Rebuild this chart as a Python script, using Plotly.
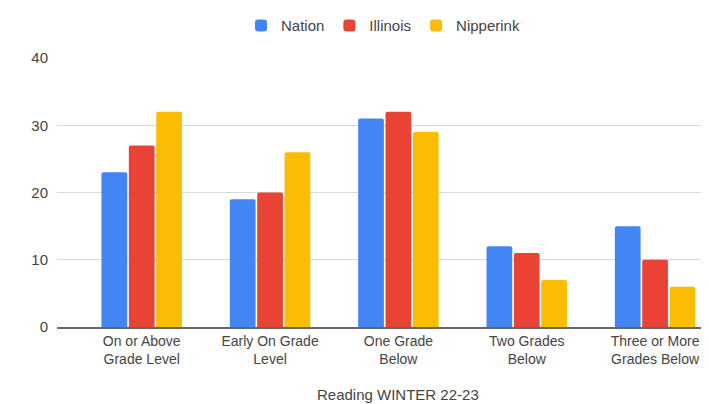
import plotly.graph_objects as go

categories = ["On or Above<br>Grade Level", "Early On Grade<br>Level", "One Grade<br>Below",
              "Two Grades<br>Below", "Three or More<br>Grades Below"]
nation = [23, 19, 31, 12, 15]
illinois = [27, 20, 32, 11, 10]
nipperink = [32, 26, 29, 7, 6]
series_names = ["Nation", "Illinois", "Nipperink"]
colors = ["#4285F4", "#EA4335", "#FBBC04"]
y_ticks = [0, 10, 20, 30, 40]

fig = go.Figure()
for name, vals, c in zip(series_names, [nation, illinois, nipperink], colors):
    fig.add_trace(go.Bar(name=name, x=categories, y=vals, marker=dict(color=c, line=dict(width=0))))

font = "Liberation Sans, Arial, sans-serif"
fig.update_layout(
    width=701, height=396,
    margin=dict(l=49, r=0, t=50, b=77),
    paper_bgcolor="white", plot_bgcolor="white",
    barmode="group", bargap=0.36, bargroupgap=0.06, barcornerradius=2,
    font=dict(family=font, size=15, color="#444444"),
    legend=dict(orientation="h", x=0.50, xanchor="center", y=1.12, yanchor="middle",
                font=dict(size=15, color="#444444"), itemwidth=30,
                traceorder="normal"),
    xaxis=dict(range=[-0.66, 4.42], showgrid=False, showline=True, linecolor="#666666",
               linewidth=1.5, ticks="", tickfont=dict(size=14, color="#444444")),
    yaxis=dict(range=[0, 40], tickvals=y_ticks, showgrid=True, gridcolor="#d9d9d9",
               zeroline=False, showline=False, ticks="", ticklabelstandoff=8,
               tickfont=dict(size=15, color="#444444")),
    annotations=[dict(text="Reading WINTER 22-23", xref="paper", yref="paper",
                      x=0.523, y=-0.25, xanchor="center", yanchor="middle",
                      showarrow=False, font=dict(size=15, color="#444444"))],
)
fig.write_html("out.html")
